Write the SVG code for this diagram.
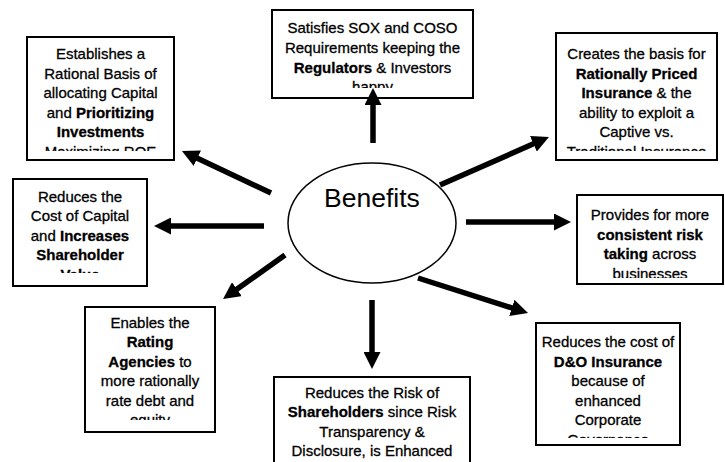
<svg xmlns="http://www.w3.org/2000/svg" width="725" height="462" viewBox="0 0 725 462">
<style>
.box{fill:#fff;stroke:#000;stroke-width:2}
.t{font-family:"Liberation Sans",Arial,sans-serif;font-size:15px;text-anchor:middle;fill:#000;stroke:#000;stroke-width:0.3}
.b{font-weight:bold}
.c{stroke:#000;stroke-width:5.5;fill:none;marker-end:url(#ah)}
</style>
<defs>
<marker id="ah" viewBox="0 0 17 17" refX="7" refY="8.5" markerWidth="17" markerHeight="17" markerUnits="userSpaceOnUse" orient="auto"><path d="M0,0 L17,8.5 L0,17 z" fill="#000"/></marker>
<clipPath id="c1"><rect x="28" y="38" width="145" height="113"/></clipPath>
<clipPath id="c2"><rect x="273" y="11" width="199" height="77"/></clipPath>
<clipPath id="c3"><rect x="557" y="34" width="159" height="117"/></clipPath>
<clipPath id="c4"><rect x="14" y="180" width="132" height="93"/></clipPath>
<clipPath id="c5"><rect x="578" y="196" width="144" height="82"/></clipPath>
<clipPath id="c6"><rect x="86" y="308" width="128" height="112"/></clipPath>
<clipPath id="c7"><rect x="275" y="378" width="194" height="81"/></clipPath>
<clipPath id="c8"><rect x="537" y="324" width="142" height="114"/></clipPath>
</defs>
<rect width="725" height="462" fill="#fff"/>
<g id="benefits">
<ellipse cx="372" cy="223" rx="84" ry="60" fill="#fff" stroke="#000" stroke-width="1.5"/>
<text x="372" y="207" font-family="Liberation Sans,Arial,sans-serif" font-size="26.5" text-anchor="middle">Benefits</text>
</g>
<g id="n-capital">
<rect class="box" x="27" y="37" width="147" height="123"/>
<text class="t" clip-path="url(#c1)"><tspan x="100.5" y="59">Establishes a</tspan><tspan x="100.5" y="78.5">Rational Basis of</tspan><tspan x="100.5" y="98">allocating Capital</tspan><tspan x="100.5" y="117.5">and <tspan class="b">Prioritizing</tspan></tspan><tspan x="100.5" y="137" class="b">Investments</tspan><tspan x="100.5" y="156.5">Maximizing ROE</tspan></text>
</g>
<g id="n-sox">
<rect class="box" x="272" y="10" width="201" height="88"/>
<text class="t" clip-path="url(#c2)"><tspan x="372.5" y="33">Satisfies SOX and COSO</tspan><tspan x="372.5" y="53">Requirements keeping the</tspan><tspan x="372.5" y="72.5"><tspan class="b">Regulators</tspan> &amp; Investors</tspan><tspan x="372.5" y="92">happy</tspan></text>
</g>
<g id="n-insurance">
<rect class="box" x="556" y="33" width="161" height="127"/>
<text class="t" clip-path="url(#c3)"><tspan x="636.5" y="59">Creates the basis  for</tspan><tspan x="636.5" y="78.5" class="b">Rationally Priced</tspan><tspan x="636.5" y="98"><tspan class="b">Insurance</tspan> &amp; the</tspan><tspan x="636.5" y="117.5">ability to exploit a</tspan><tspan x="636.5" y="137">Captive vs.</tspan><tspan x="636.5" y="156.5">Traditional Insurance</tspan></text>
</g>
<g id="n-cost">
<rect class="box" x="13" y="179" width="134" height="107"/>
<text class="t" clip-path="url(#c4)"><tspan x="80" y="201.5">Reduces the</tspan><tspan x="80" y="221">Cost of Capital</tspan><tspan x="80" y="240.5">and <tspan class="b">Increases</tspan></tspan><tspan x="80" y="260" class="b">Shareholder</tspan><tspan x="80" y="279.5" class="b">Value</tspan></text>
</g>
<g id="n-risk">
<rect class="box" x="577" y="195" width="146" height="89"/>
<text class="t" clip-path="url(#c5)"><tspan x="650" y="220">Provides for more</tspan><tspan x="650" y="239.5" class="b">consistent risk</tspan><tspan x="650" y="259"><tspan class="b">taking</tspan> across</tspan><tspan x="650" y="278.5">businesses</tspan></text>
</g>
<g id="n-rating">
<rect class="box" x="85" y="307" width="130" height="125"/>
<text class="t" clip-path="url(#c6)"><tspan x="150" y="327.5">Enables the</tspan><tspan x="150" y="347" class="b">Rating</tspan><tspan x="150" y="366.5"><tspan class="b">Agencies</tspan> to</tspan><tspan x="150" y="386">more rationally</tspan><tspan x="150" y="405.5">rate debt and</tspan><tspan x="150" y="425">equity</tspan></text>
</g>
<g id="n-shareholders">
<rect class="box" x="274" y="377" width="196" height="95"/>
<text class="t" clip-path="url(#c7)"><tspan x="372" y="397.5">Reduces the Risk of</tspan><tspan x="372" y="417"><tspan class="b">Shareholders</tspan> since Risk</tspan><tspan x="372" y="436.5">Transparency &amp;</tspan><tspan x="372" y="456">Disclosure, is Enhanced</tspan></text>
</g>
<g id="n-do">
<rect class="box" x="536" y="323" width="144" height="122"/>
<text class="t" clip-path="url(#c8)"><tspan x="608" y="347">Reduces the cost of</tspan><tspan x="608" y="366.5" class="b">D&amp;O Insurance</tspan><tspan x="608" y="386">because of</tspan><tspan x="608" y="405.5">enhanced</tspan><tspan x="608" y="425">Corporate</tspan><tspan x="608" y="444.5">Governance</tspan></text>
</g>
<g id="connectors">
<line class="c" x1="373" y1="143" x2="373" y2="98"/>
<line class="c" x1="271" y1="193" x2="191" y2="155.3"/>
<line class="c" x1="264" y1="226" x2="164" y2="226"/>
<line class="c" x1="285" y1="255" x2="231.2" y2="293.2"/>
<line class="c" x1="372" y1="300" x2="372" y2="359"/>
<line class="c" x1="418" y1="278" x2="518.5" y2="310"/>
<line class="c" x1="466" y1="222" x2="561" y2="222"/>
<line class="c" x1="440" y1="185" x2="539.8" y2="141"/>
</g>
</svg>
